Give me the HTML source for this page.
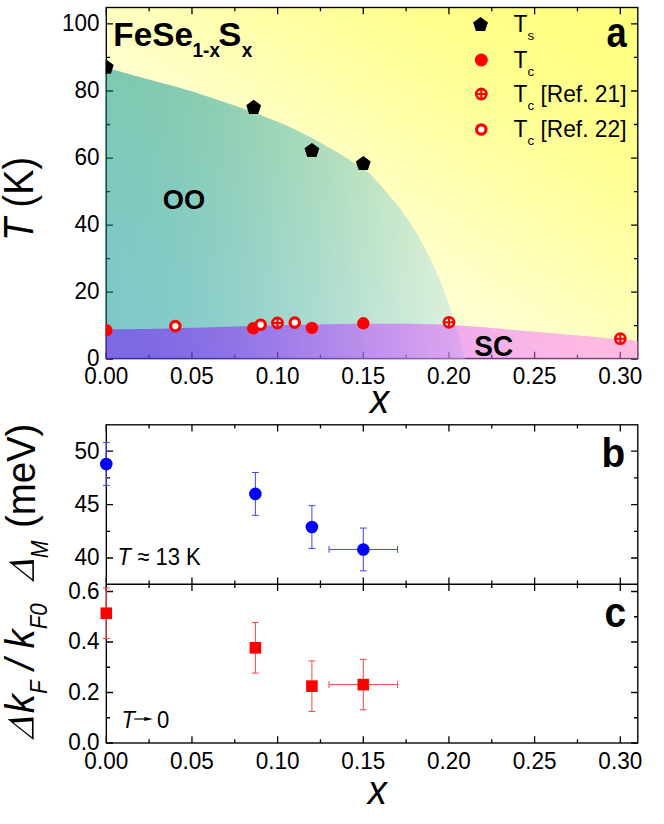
<!DOCTYPE html><html><head><meta charset="utf-8"><style>html,body{margin:0;padding:0;background:#fff}svg{display:block}</style></head><body><svg width="664" height="824" viewBox="0 0 664 824">
<defs>
<linearGradient id="gy" x1="0" y1="1" x2="1" y2="0"><stop offset="0.000" stop-color="#ffffff"/><stop offset="0.050" stop-color="#fffffe"/><stop offset="0.100" stop-color="#fffffb"/><stop offset="0.150" stop-color="#fffff7"/><stop offset="0.200" stop-color="#fffff2"/><stop offset="0.250" stop-color="#ffffeb"/><stop offset="0.300" stop-color="#ffffe4"/><stop offset="0.350" stop-color="#ffffdb"/><stop offset="0.400" stop-color="#ffffd2"/><stop offset="0.450" stop-color="#ffffc9"/><stop offset="0.500" stop-color="#ffffc0"/><stop offset="0.550" stop-color="#ffffb6"/><stop offset="0.600" stop-color="#ffffad"/><stop offset="0.650" stop-color="#ffffa4"/><stop offset="0.700" stop-color="#ffff9b"/><stop offset="0.750" stop-color="#ffff94"/><stop offset="0.800" stop-color="#ffff8d"/><stop offset="0.850" stop-color="#ffff88"/><stop offset="0.900" stop-color="#ffff84"/><stop offset="0.950" stop-color="#ffff81"/><stop offset="1.000" stop-color="#ffff80"/></linearGradient>
<linearGradient id="goo" gradientUnits="userSpaceOnUse" x1="106" y1="0" x2="638" y2="0"><stop offset="0.000" stop-color="#009292"/><stop offset="0.050" stop-color="#029393"/><stop offset="0.100" stop-color="#079595"/><stop offset="0.150" stop-color="#0f9999"/><stop offset="0.200" stop-color="#1b9d9d"/><stop offset="0.250" stop-color="#28a3a3"/><stop offset="0.300" stop-color="#37aaaa"/><stop offset="0.350" stop-color="#48b1b1"/><stop offset="0.400" stop-color="#5ab8b8"/><stop offset="0.450" stop-color="#6cc0c0"/><stop offset="0.500" stop-color="#80c8c8"/><stop offset="0.550" stop-color="#93d1d1"/><stop offset="0.600" stop-color="#a5d9d9"/><stop offset="0.650" stop-color="#b7e0e0"/><stop offset="0.700" stop-color="#c8e7e7"/><stop offset="0.750" stop-color="#d7eeee"/><stop offset="0.800" stop-color="#e4f4f4"/><stop offset="0.850" stop-color="#f0f8f8"/><stop offset="0.900" stop-color="#f8fcfc"/><stop offset="0.950" stop-color="#fdfefe"/><stop offset="1.000" stop-color="#ffffff"/></linearGradient>
<linearGradient id="gsc" gradientUnits="userSpaceOnUse" x1="106" y1="0" x2="638" y2="0"><stop offset="0.000" stop-color="#7c08ff"/><stop offset="0.050" stop-color="#7d09ff"/><stop offset="0.100" stop-color="#800bff"/><stop offset="0.150" stop-color="#840fff"/><stop offset="0.200" stop-color="#8a14ff"/><stop offset="0.250" stop-color="#901aff"/><stop offset="0.300" stop-color="#9820ff"/><stop offset="0.350" stop-color="#a128ff"/><stop offset="0.400" stop-color="#aa2fff"/><stop offset="0.450" stop-color="#b438ff"/><stop offset="0.500" stop-color="#be40ff"/><stop offset="0.550" stop-color="#c748ff"/><stop offset="0.600" stop-color="#d151ff"/><stop offset="0.650" stop-color="#da58ff"/><stop offset="0.700" stop-color="#e360ff"/><stop offset="0.750" stop-color="#eb66ff"/><stop offset="0.800" stop-color="#f16cff"/><stop offset="0.850" stop-color="#f771ff"/><stop offset="0.900" stop-color="#fb75ff"/><stop offset="0.950" stop-color="#fe77ff"/><stop offset="1.000" stop-color="#ff78ff"/></linearGradient>
<clipPath id="ca"><rect x="105.6" y="6.8" width="532.9" height="352.4"/></clipPath>
</defs>
<rect width="664" height="824" fill="#fff"/>
<rect x="106.3" y="7.5" width="531.5" height="351.0" fill="url(#gy)"/>
<path d="M106.30,358.50L106.30,351.80M106.30,7.50L106.30,14.20M106.30,424.80L106.30,431.50M106.30,577.50L106.30,590.90M106.30,743.00L106.30,736.30M149.13,358.50L149.13,354.70M149.13,7.50L149.13,11.30M149.13,424.80L149.13,428.60M149.13,580.40L149.13,588.00M149.13,743.00L149.13,739.20M191.97,358.50L191.97,351.80M191.97,7.50L191.97,14.20M191.97,424.80L191.97,431.50M191.97,577.50L191.97,590.90M191.97,743.00L191.97,736.30M234.80,358.50L234.80,354.70M234.80,7.50L234.80,11.30M234.80,424.80L234.80,428.60M234.80,580.40L234.80,588.00M234.80,743.00L234.80,739.20M277.63,358.50L277.63,351.80M277.63,7.50L277.63,14.20M277.63,424.80L277.63,431.50M277.63,577.50L277.63,590.90M277.63,743.00L277.63,736.30M320.46,358.50L320.46,354.70M320.46,7.50L320.46,11.30M320.46,424.80L320.46,428.60M320.46,580.40L320.46,588.00M320.46,743.00L320.46,739.20M363.30,358.50L363.30,351.80M363.30,7.50L363.30,14.20M363.30,424.80L363.30,431.50M363.30,577.50L363.30,590.90M363.30,743.00L363.30,736.30M406.13,358.50L406.13,354.70M406.13,7.50L406.13,11.30M406.13,424.80L406.13,428.60M406.13,580.40L406.13,588.00M406.13,743.00L406.13,739.20M448.96,358.50L448.96,351.80M448.96,7.50L448.96,14.20M448.96,424.80L448.96,431.50M448.96,577.50L448.96,590.90M448.96,743.00L448.96,736.30M491.79,358.50L491.79,354.70M491.79,7.50L491.79,11.30M491.79,424.80L491.79,428.60M491.79,580.40L491.79,588.00M491.79,743.00L491.79,739.20M534.62,358.50L534.62,351.80M534.62,7.50L534.62,14.20M534.62,424.80L534.62,431.50M534.62,577.50L534.62,590.90M534.62,743.00L534.62,736.30M577.46,358.50L577.46,354.70M577.46,7.50L577.46,11.30M577.46,424.80L577.46,428.60M577.46,580.40L577.46,588.00M577.46,743.00L577.46,739.20M620.29,358.50L620.29,351.80M620.29,7.50L620.29,14.20M620.29,424.80L620.29,431.50M620.29,577.50L620.29,590.90M620.29,743.00L620.29,736.30M106.30,359.15L113.00,359.15M637.80,359.15L631.10,359.15M106.30,325.63L110.10,325.63M637.80,325.63L634.00,325.63M106.30,292.11L113.00,292.11M637.80,292.11L631.10,292.11M106.30,258.59L110.10,258.59M637.80,258.59L634.00,258.59M106.30,225.07L113.00,225.07M637.80,225.07L631.10,225.07M106.30,191.55L110.10,191.55M637.80,191.55L634.00,191.55M106.30,158.03L113.00,158.03M637.80,158.03L631.10,158.03M106.30,124.51L110.10,124.51M637.80,124.51L634.00,124.51M106.30,90.99L113.00,90.99M637.80,90.99L631.10,90.99M106.30,57.47L110.10,57.47M637.80,57.47L634.00,57.47M106.30,23.95L113.00,23.95M637.80,23.95L631.10,23.95M106.30,558.00L113.00,558.00M637.80,558.00L631.10,558.00M106.30,531.29L110.10,531.29M637.80,531.29L634.00,531.29M106.30,504.57L113.00,504.57M637.80,504.57L631.10,504.57M106.30,477.86L110.10,477.86M637.80,477.86L634.00,477.86M106.30,451.15L113.00,451.15M637.80,451.15L631.10,451.15M106.30,743.00L113.00,743.00M637.80,743.00L631.10,743.00M106.30,717.75L110.10,717.75M637.80,717.75L634.00,717.75M106.30,692.50L113.00,692.50M637.80,692.50L631.10,692.50M106.30,667.25L110.10,667.25M637.80,667.25L634.00,667.25M106.30,642.00L113.00,642.00M637.80,642.00L631.10,642.00M106.30,616.75L110.10,616.75M637.80,616.75L634.00,616.75M106.30,591.50L113.00,591.50M637.80,591.50L631.10,591.50" stroke="#000" stroke-width="1.3" fill="none"/>
<rect x="106.3" y="7.5" width="531.5" height="351.0" fill="none" stroke="#000" stroke-width="1.35"/>
<rect x="106.3" y="424.8" width="531.5" height="318.2" fill="none" stroke="#000" stroke-width="1.35"/>
<path d="M106.3,584.2H637.8" stroke="#000" stroke-width="1.35"/>
<g clip-path="url(#ca)">
<path d="M100.0,66.0 C101.0,66.3 103.9,67.1 106.0,67.7 C108.1,68.3 103.8,67.1 112.8,69.6 C121.8,72.1 147.1,79.1 160.0,82.6 C172.9,86.1 180.0,87.8 190.0,90.8 C200.0,93.8 210.8,97.7 220.1,100.8 C229.4,103.9 238.7,106.9 245.7,109.4 C252.7,111.9 256.6,113.6 262.3,115.8 C268.0,118.0 274.5,120.5 280.0,122.8 C285.5,125.1 290.1,127.2 295.1,129.6 C300.1,132.0 305.1,134.5 310.1,137.1 C315.1,139.7 320.2,142.6 325.2,145.4 C330.2,148.2 335.2,151.0 340.2,154.0 C345.2,157.0 350.3,160.2 355.3,163.5 C360.3,166.8 365.1,169.6 370.1,174.1 C375.1,178.6 380.2,184.9 385.2,190.7 C390.2,196.5 395.2,202.0 400.2,208.7 C405.2,215.4 411.4,224.8 415.3,231.0 C419.2,237.2 421.0,241.0 423.7,246.2 C426.4,251.4 429.1,256.8 431.6,262.0 C434.1,267.2 436.5,272.4 438.7,277.6 C440.9,282.8 443.0,287.9 445.0,293.1 C447.0,298.3 448.8,303.6 450.5,308.9 C452.2,314.2 453.6,319.4 455.2,324.7 C456.8,330.0 458.4,335.0 460.0,340.5 C461.6,346.0 463.8,354.6 464.7,357.8 C465.6,361.1 465.2,359.6 465.3,360.0 L100,360 Z" fill="url(#goo)" fill-opacity="0.5"/>
<path d="M100.0,329.5 C101.0,329.5 96.7,329.5 106.0,329.4 C115.3,329.3 131.5,329.4 156.0,328.8 C180.5,328.2 227.2,326.7 253.0,326.0 C278.8,325.3 292.7,325.0 311.0,324.6 C329.3,324.2 348.2,323.9 363.0,323.8 C377.8,323.7 387.2,323.7 400.0,323.8 C412.8,323.9 426.7,324.1 440.0,324.6 C453.3,325.1 466.7,326.0 480.0,327.0 C493.3,328.0 501.7,328.9 520.0,330.5 C538.3,332.1 570.3,334.7 590.0,336.4 C609.7,338.1 628.8,339.9 638.0,340.7 C647.2,341.5 643.8,341.2 645.0,341.3 L645,360 L100,360 Z" fill="url(#gsc)" fill-opacity="0.5"/>
</g>
<g clip-path="url(#ca)">
<polygon points="106.30,59.61 113.72,65.00 110.88,73.72 101.72,73.72 98.88,65.00" fill="#000"/>
<polygon points="253.64,99.83 261.06,105.22 258.23,113.94 249.06,113.94 246.23,105.22" fill="#000"/>
<polygon points="311.90,142.94 319.31,148.33 316.48,157.05 307.31,157.05 304.48,148.33" fill="#000"/>
<polygon points="363.30,156.01 370.71,161.40 367.88,170.12 358.71,170.12 355.88,161.40" fill="#000"/>
<circle cx="106.30" cy="330.31" r="6.20" fill="#ff0000"/>
<circle cx="253.13" cy="328.30" r="6.20" fill="#ff0000"/>
<circle cx="311.90" cy="327.99" r="6.20" fill="#ff0000"/>
<circle cx="363.30" cy="323.30" r="6.20" fill="#ff0000"/>
</g>
<circle cx="175.35" cy="326.08" r="4.7" fill="#fff" stroke="#ff0000" stroke-width="3.2"/>
<circle cx="260.67" cy="324.71" r="4.7" fill="#fff" stroke="#ff0000" stroke-width="3.2"/>
<circle cx="294.76" cy="322.60" r="4.7" fill="#fff" stroke="#ff0000" stroke-width="3.2"/>
<circle cx="277.46" cy="323.00" r="5.1" fill="none" stroke="#ff0000" stroke-width="2.6"/><path d="M272.46,323.00h10M277.46,318.00v10" stroke="#ff0000" stroke-width="2.0"/>
<circle cx="448.96" cy="322.30" r="5.1" fill="none" stroke="#ff0000" stroke-width="2.6"/><path d="M443.96,322.30h10M448.96,317.30v10" stroke="#ff0000" stroke-width="2.0"/>
<circle cx="620.29" cy="338.69" r="5.1" fill="none" stroke="#ff0000" stroke-width="2.6"/><path d="M615.29,338.69h10M620.29,333.69v10" stroke="#ff0000" stroke-width="2.0"/>
<polygon points="480.50,17.00 487.92,22.39 485.08,31.11 475.92,31.11 473.08,22.39" fill="#000"/>
<circle cx="481.30" cy="60.00" r="6.50" fill="#ff0000"/>
<circle cx="481.30" cy="94.00" r="5.1" fill="none" stroke="#ff0000" stroke-width="2.6"/><path d="M476.30,94.00h10M481.30,89.00v10" stroke="#ff0000" stroke-width="2.0"/>
<circle cx="481.30" cy="129.50" r="4.7" fill="#fff" stroke="#ff0000" stroke-width="3.2"/>
<text transform="translate(513.50,32.00) scale(0.990,1)" font-family="Liberation Sans, sans-serif" font-size="23" text-anchor="start" >T<tspan dy="8.3" font-size="13.5">s</tspan></text>
<text transform="translate(513.50,67.50) scale(0.990,1)" font-family="Liberation Sans, sans-serif" font-size="23" text-anchor="start" >T<tspan dy="8.3" font-size="13.5">c</tspan></text>
<text transform="translate(513.50,102.00) scale(0.990,1)" font-family="Liberation Sans, sans-serif" font-size="23" text-anchor="start" >T<tspan dy="8.3" font-size="13.5">c</tspan><tspan dy="-8.3" font-size="23"> [Ref. 21]</tspan></text>
<text transform="translate(513.50,136.50) scale(0.990,1)" font-family="Liberation Sans, sans-serif" font-size="23" text-anchor="start" >T<tspan dy="8.3" font-size="13.5">c</tspan><tspan dy="-8.3" font-size="23"> [Ref. 22]</tspan></text>
<text transform="translate(606.60,46.60) scale(0.840,1)" font-family="Liberation Sans, sans-serif" font-size="43.3" text-anchor="start" font-weight="bold">a</text>
<text transform="translate(601.50,467.00) scale(0.950,1)" font-family="Liberation Sans, sans-serif" font-size="40.9" text-anchor="start" font-weight="bold">b</text>
<text transform="translate(604.50,627.20) scale(0.900,1)" font-family="Liberation Sans, sans-serif" font-size="43.3" text-anchor="start" font-weight="bold">c</text>
<text transform="translate(113.30,46.30) scale(1.010,1)" font-family="Liberation Sans, sans-serif" font-size="33" text-anchor="start" font-weight="bold">FeSe</text>
<text transform="translate(192.50,57.20) scale(0.950,1)" font-family="Liberation Sans, sans-serif" font-size="20" text-anchor="start" font-weight="bold">1-x</text>
<text transform="translate(218.30,46.30) scale(1.050,1)" font-family="Liberation Sans, sans-serif" font-size="33" text-anchor="start" font-weight="bold">S</text>
<text transform="translate(241.70,57.20) scale(0.950,1)" font-family="Liberation Sans, sans-serif" font-size="20" text-anchor="start" font-weight="bold">x</text>
<text transform="translate(184.00,208.70) scale(0.995,1)" font-family="Liberation Sans, sans-serif" font-size="27.4" text-anchor="middle" font-weight="bold">OO</text>
<text transform="translate(493.70,356.00) scale(0.957,1)" font-family="Liberation Sans, sans-serif" font-size="29.2" text-anchor="middle" font-weight="bold">SC</text>
<text transform="translate(106.30,384.20) scale(0.920,1)" font-family="Liberation Sans, sans-serif" font-size="24.5" text-anchor="middle" >0.00</text>
<text transform="translate(106.30,768.60) scale(0.920,1)" font-family="Liberation Sans, sans-serif" font-size="24.5" text-anchor="middle" >0.00</text>
<text transform="translate(191.97,384.20) scale(0.920,1)" font-family="Liberation Sans, sans-serif" font-size="24.5" text-anchor="middle" >0.05</text>
<text transform="translate(191.97,768.60) scale(0.920,1)" font-family="Liberation Sans, sans-serif" font-size="24.5" text-anchor="middle" >0.05</text>
<text transform="translate(277.63,384.20) scale(0.920,1)" font-family="Liberation Sans, sans-serif" font-size="24.5" text-anchor="middle" >0.10</text>
<text transform="translate(277.63,768.60) scale(0.920,1)" font-family="Liberation Sans, sans-serif" font-size="24.5" text-anchor="middle" >0.10</text>
<text transform="translate(363.30,384.20) scale(0.920,1)" font-family="Liberation Sans, sans-serif" font-size="24.5" text-anchor="middle" >0.15</text>
<text transform="translate(363.30,768.60) scale(0.920,1)" font-family="Liberation Sans, sans-serif" font-size="24.5" text-anchor="middle" >0.15</text>
<text transform="translate(448.96,384.20) scale(0.920,1)" font-family="Liberation Sans, sans-serif" font-size="24.5" text-anchor="middle" >0.20</text>
<text transform="translate(448.96,768.60) scale(0.920,1)" font-family="Liberation Sans, sans-serif" font-size="24.5" text-anchor="middle" >0.20</text>
<text transform="translate(534.62,384.20) scale(0.920,1)" font-family="Liberation Sans, sans-serif" font-size="24.5" text-anchor="middle" >0.25</text>
<text transform="translate(534.62,768.60) scale(0.920,1)" font-family="Liberation Sans, sans-serif" font-size="24.5" text-anchor="middle" >0.25</text>
<text transform="translate(620.29,384.20) scale(0.920,1)" font-family="Liberation Sans, sans-serif" font-size="24.5" text-anchor="middle" >0.30</text>
<text transform="translate(620.29,768.60) scale(0.920,1)" font-family="Liberation Sans, sans-serif" font-size="24.5" text-anchor="middle" >0.30</text>
<text transform="translate(99.50,366.45) scale(0.920,1)" font-family="Liberation Sans, sans-serif" font-size="24.5" text-anchor="end" >0</text>
<text transform="translate(99.50,299.41) scale(0.920,1)" font-family="Liberation Sans, sans-serif" font-size="24.5" text-anchor="end" >20</text>
<text transform="translate(99.50,232.37) scale(0.920,1)" font-family="Liberation Sans, sans-serif" font-size="24.5" text-anchor="end" >40</text>
<text transform="translate(99.50,165.33) scale(0.920,1)" font-family="Liberation Sans, sans-serif" font-size="24.5" text-anchor="end" >60</text>
<text transform="translate(99.50,98.29) scale(0.920,1)" font-family="Liberation Sans, sans-serif" font-size="24.5" text-anchor="end" >80</text>
<text transform="translate(99.50,31.25) scale(0.920,1)" font-family="Liberation Sans, sans-serif" font-size="24.5" text-anchor="end" >100</text>
<text transform="translate(99.50,565.40) scale(0.920,1)" font-family="Liberation Sans, sans-serif" font-size="24.5" text-anchor="end" >40</text>
<text transform="translate(99.50,511.97) scale(0.920,1)" font-family="Liberation Sans, sans-serif" font-size="24.5" text-anchor="end" >45</text>
<text transform="translate(99.50,458.55) scale(0.920,1)" font-family="Liberation Sans, sans-serif" font-size="24.5" text-anchor="end" >50</text>
<text transform="translate(99.50,750.40) scale(0.920,1)" font-family="Liberation Sans, sans-serif" font-size="24.5" text-anchor="end" >0.0</text>
<text transform="translate(99.50,699.90) scale(0.920,1)" font-family="Liberation Sans, sans-serif" font-size="24.5" text-anchor="end" >0.2</text>
<text transform="translate(99.50,649.40) scale(0.920,1)" font-family="Liberation Sans, sans-serif" font-size="24.5" text-anchor="end" >0.4</text>
<text transform="translate(99.50,598.90) scale(0.920,1)" font-family="Liberation Sans, sans-serif" font-size="24.5" text-anchor="end" >0.6</text>
<text transform="translate(379.60,413.00) scale(0.960,1)" font-family="Liberation Sans, sans-serif" font-size="40" text-anchor="middle" font-style="italic">x</text>
<text transform="translate(377.40,804.00) scale(0.960,1)" font-family="Liberation Sans, sans-serif" font-size="40" text-anchor="middle" font-style="italic">x</text>
<text transform="translate(33.00,199.00) rotate(-90) scale(0.900,1)" font-family="Liberation Sans, sans-serif" font-size="42" text-anchor="middle" ><tspan font-style="italic">T</tspan> (K)</text>
<path transform="translate(33.90,582.00) rotate(-90)" d="M0.00,0.00L21.90,0.00L20.30,-25.30ZM2.90,-1.60L18.20,-1.60L17.20,-19.60Z" fill="#000" fill-rule="evenodd"/>
<text transform="translate(47.60,558.20) rotate(-90) scale(0.925,1)" font-family="Liberation Sans, sans-serif" font-size="23" text-anchor="start" font-style="italic">M</text>
<text transform="translate(34.50,528.10) rotate(-90) scale(0.925,1)" font-family="Liberation Sans, sans-serif" font-size="41.5" text-anchor="start" >(meV)</text>
<path transform="translate(33.60,740.10) rotate(-90)" d="M0.00,0.00L22.56,0.00L20.91,-26.06ZM2.99,-1.65L18.75,-1.65L17.72,-20.19Z" fill="#000" fill-rule="evenodd"/>
<text transform="translate(33.60,713.20) rotate(-90) scale(0.925,1)" font-family="Liberation Sans, sans-serif" font-size="41.5" text-anchor="start" font-style="italic">k<tspan font-size="24" dy="13.5">F</tspan><tspan dy="-13.5" font-size="41.5"> / k</tspan><tspan font-size="24" dy="13.5">F0</tspan></text>
<text transform="translate(117.60,564.50) scale(0.900,1)" font-family="Liberation Sans, sans-serif" font-size="24.5" text-anchor="start" ><tspan font-style="italic">T</tspan> ≈ 13 K</text>
<text transform="translate(121.60,727.70) scale(0.900,1)" font-family="Liberation Sans, sans-serif" font-size="24.5" text-anchor="start" font-style="italic">T</text>
<path d="M134.3,719H146" stroke="#000" stroke-width="1.2"/><path d="M144.3,716.9L152.9,719L144.3,721.1Z" fill="#000"/>
<text transform="translate(157.00,727.70) scale(0.900,1)" font-family="Liberation Sans, sans-serif" font-size="24.5" text-anchor="start" >0</text>
<g>
<path d="M106.30,442.57V485.37M102.90,442.57h6.8M102.90,485.37h6.8" stroke="#4040ff" stroke-width="1" fill="none"/>
<circle cx="106.30" cy="463.97" r="6.3" fill="#0000ff"/>
<path d="M255.36,472.49V515.29M251.96,472.49h6.8M251.96,515.29h6.8" stroke="#4040ff" stroke-width="1" fill="none"/>
<circle cx="255.36" cy="493.89" r="6.3" fill="#0000ff"/>
<path d="M311.90,505.61V548.41M308.50,505.61h6.8M308.50,548.41h6.8" stroke="#4040ff" stroke-width="1" fill="none"/>
<circle cx="311.90" cy="527.01" r="6.3" fill="#0000ff"/>
<path d="M363.30,528.05V570.85M359.90,528.05h6.8M359.90,570.85h6.8M329.03,549.45H397.56M329.03,546.05v6.8M397.56,546.05v6.8" stroke="#4040ff" stroke-width="1" fill="none"/>
<circle cx="363.30" cy="549.45" r="6.3" fill="#0000ff"/>
<path d="M106.30,587.97V638.47M102.90,587.97h6.8M102.90,638.47h6.8" stroke="#ff4040" stroke-width="1" fill="none"/>
<rect x="100.50" y="607.42" width="11.6" height="11.6" fill="#ff0000"/>
<path d="M255.36,622.56V673.06M251.96,622.56h6.8M251.96,673.06h6.8" stroke="#ff4040" stroke-width="1" fill="none"/>
<rect x="249.56" y="642.01" width="11.6" height="11.6" fill="#ff0000"/>
<path d="M311.90,660.89V711.39M308.50,660.89h6.8M308.50,711.39h6.8" stroke="#ff4040" stroke-width="1" fill="none"/>
<rect x="306.10" y="680.34" width="11.6" height="11.6" fill="#ff0000"/>
<path d="M363.30,659.37V709.87M359.90,659.37h6.8M359.90,709.87h6.8M329.03,684.62H397.56M329.03,681.22v6.8M397.56,681.22v6.8" stroke="#ff4040" stroke-width="1" fill="none"/>
<rect x="357.50" y="678.82" width="11.6" height="11.6" fill="#ff0000"/>
</g>
</svg></body></html>
